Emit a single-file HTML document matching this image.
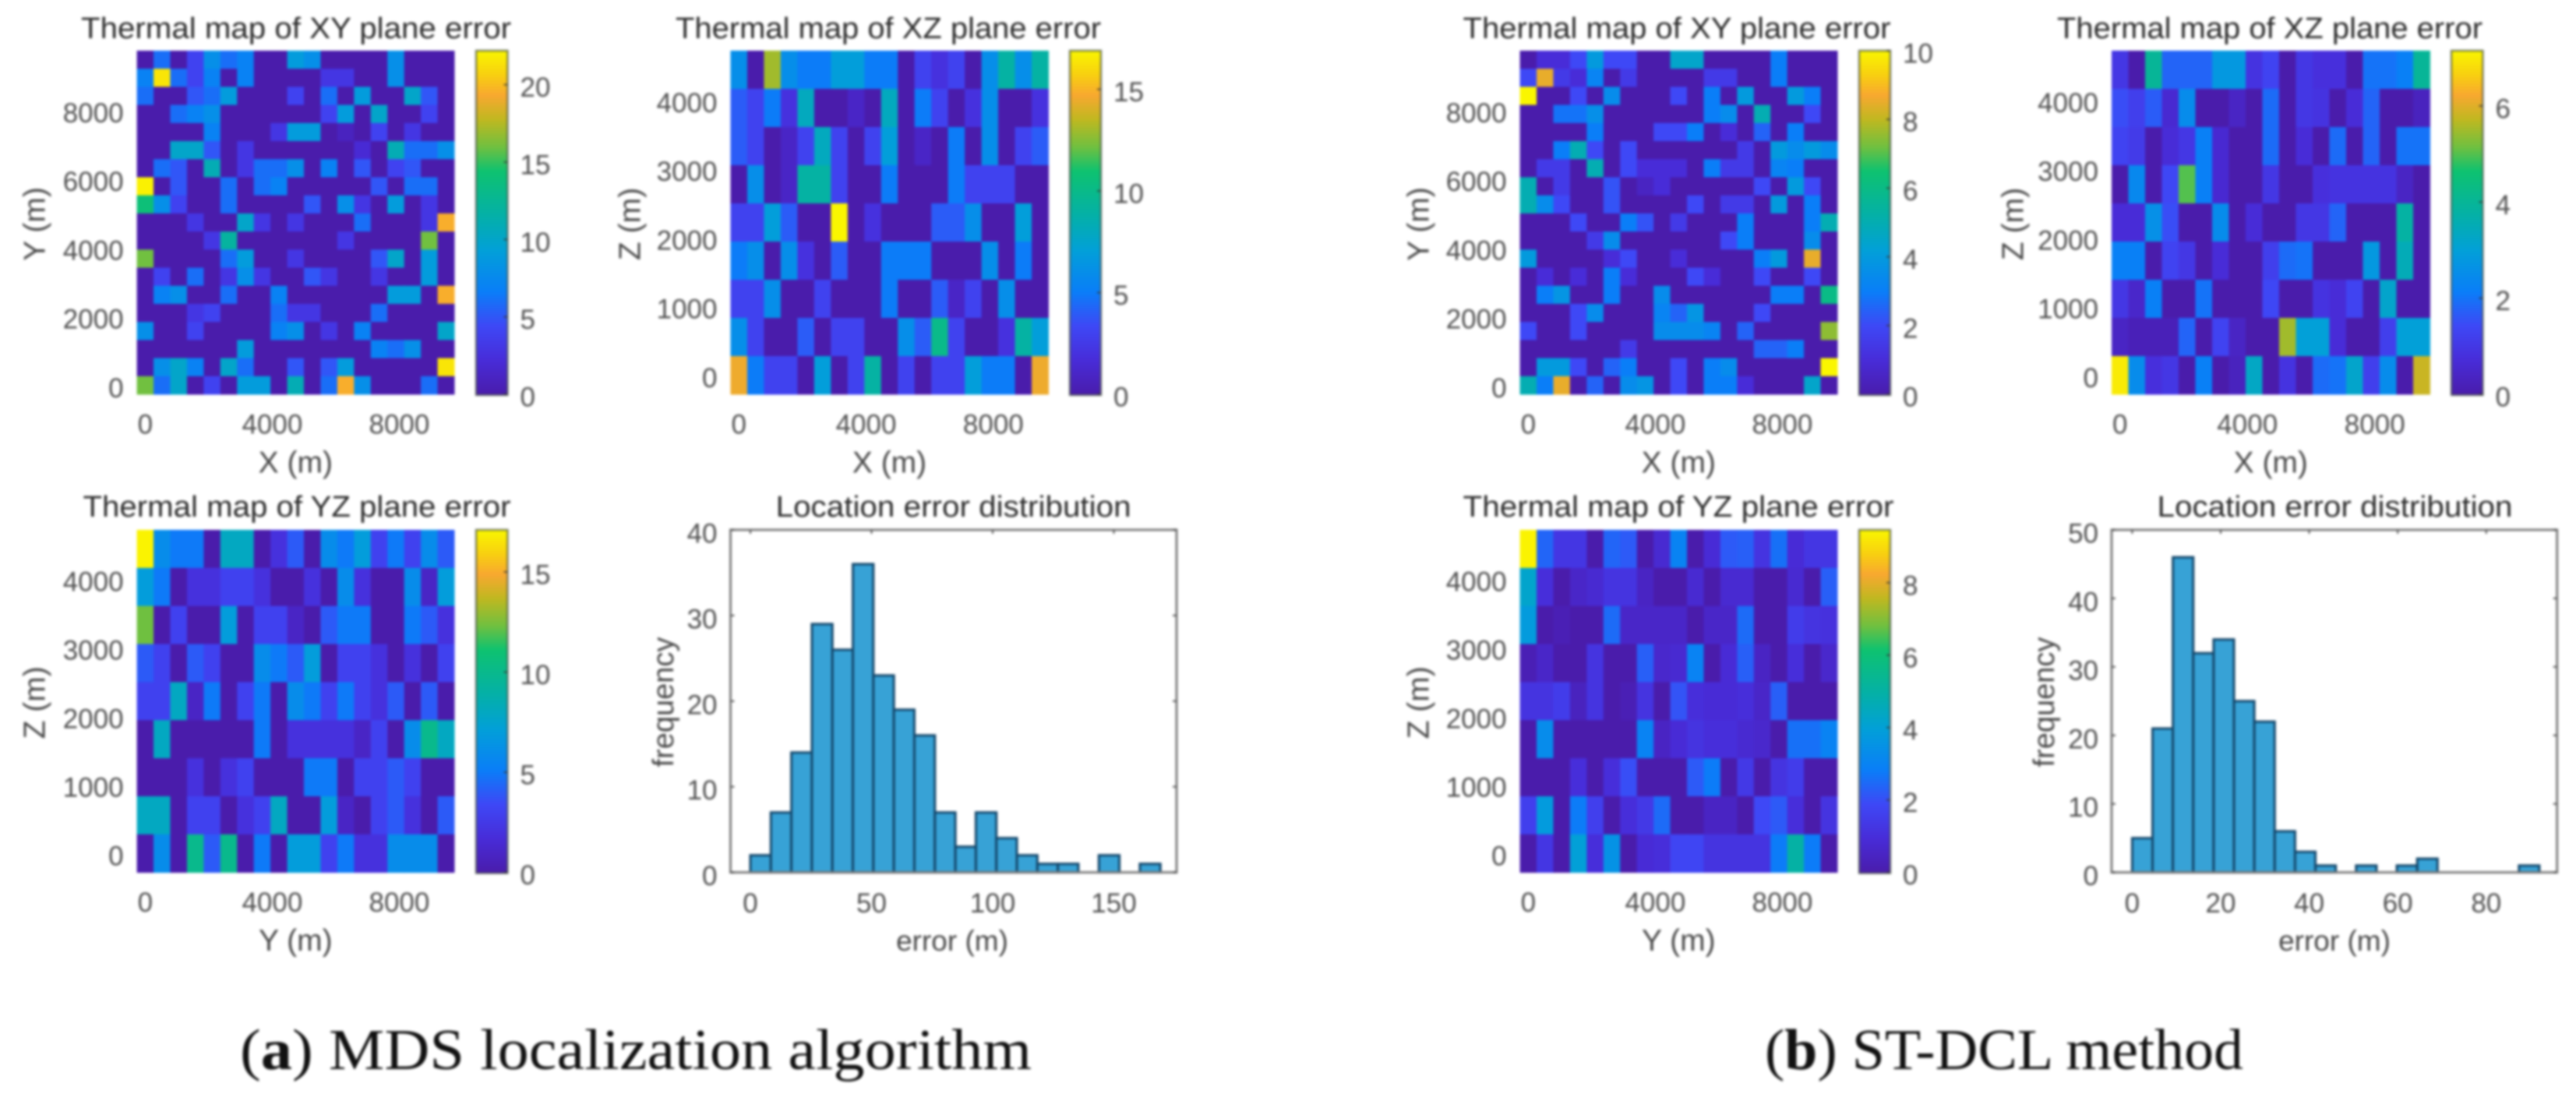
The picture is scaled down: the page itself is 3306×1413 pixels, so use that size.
<!DOCTYPE html>
<html lang="en">
<head>
<meta charset="utf-8">
<title>Thermal maps of location error</title>
<style>
  html, body { margin: 0; padding: 0; background: #ffffff; }
  #figure { display: block; width: 3306px; height: 1413px; background: #ffffff; filter: blur(1.6px); }
  text { font-family: "Liberation Sans", sans-serif; }
  .serif { font-family: "Liberation Serif", serif; fill: #111111; }
</style>
</head>
<body>
<svg id="figure" xmlns="http://www.w3.org/2000/svg" width="3306" height="1413" viewBox="0 0 3306 1413">
  <defs id="defs"></defs>
  <g id="plots"></g>
  <text class="serif" x="308" y="1372" font-size="74" textLength="1016" lengthAdjust="spacingAndGlyphs">(<tspan font-weight="bold">a</tspan>) MDS localization algorithm</text>
  <text class="serif" x="2265" y="1372" font-size="74" textLength="614" lengthAdjust="spacingAndGlyphs">(<tspan font-weight="bold">b</tspan>) ST-DCL method</text>
</svg>
<script>
// ---------- chart data (cell values in colorbar units; rows run top to bottom) ----------
const xyErrorA = [
  [0,6,0,4,8,6,7,0,0,9,8,0,0,0,0,8,0,0,0],
  [7,21.5,6,4,7,0,7,0,0,0,0,3,3,0,0,8,0,0,0],
  [6,0,0,5,6,9,0,0,0,4,0,6,0,9,0,0,10,5,0],
  [0,0,6,7,8,0,0,0,0,0,0,4,9,0,10,0,0,4,0],
  [0,0,0,0,7,0,0,0,3,9,9,0,1,0,4,0,3,0,0],
  [0,0,10,10,5,0,3,0,0,0,0,0,0,2,0,11,6,6,8],
  [0,6,5,0,11,0,3,6,6,8,0,7,0,5,0,4,5,0,0],
  [22,0,5,0,0,6,0,6,7,0,0,0,0,0,5,0,6,6,0],
  [14,8,4,0,0,6,0,0,0,0,5,0,8,3,0,9,0,3,0],
  [0,0,0,3,0,0,10,3,0,3,0,0,0,6,0,0,0,3,19.5],
  [0,0,0,0,3,12,0,0,0,0,0,0,3,0,0,0,0,16,0],
  [16,0,0,0,0,6,9,0,0,3,0,0,0,0,5,10,0,9,0],
  [0,4,0,6,0,3,8,3,0,0,5,3,0,0,3,0,0,9,0],
  [0,7,8,0,0,6,0,0,7,0,0,0,0,0,0,9,9,0,19.5],
  [0,0,0,3,4,0,0,0,6,3,3,0,0,0,6,0,0,0,0],
  [8,0,0,4,0,0,0,0,7,8,0,3,0,7,0,0,0,0,10],
  [0,0,0,0,0,0,9,0,0,0,0,0,0,0,7,6,8,0,0],
  [0,8,10,7,0,10,6,0,0,5,0,5,9,0,0,0,0,0,21.5],
  [16,6,10,0,4,0,9,9,0,11,0,6,19.5,8,0,0,0,6,0]
];
const xzErrorA = [
  [6,0,13,6,5,5,7,7,5,5,0,3,2,3,0,6,9,6,9],
  [4,3,5,2,8,0,0,1,0,8,0,5,3,0,2,6,0,0,2],
  [4,3,0,1,3,8,3,0,3,7,0,1,0,5,0,6,0,3,4],
  [0,6,0,1,9,9,3,0,0,5,0,0,0,5,3,3,3,0,0],
  [3,3,7,4,0,0,17,0,2,0,0,0,4,4,6,0,0,7,0],
  [5,6,0,6,2,0,4,0,0,5,5,5,0,0,0,6,0,5,0],
  [3,3,6,0,0,3,0,0,0,5,0,0,4,1,3,0,6,0,0],
  [6,3,0,0,4,0,3,3,0,0,6,4,10,3,0,0,2,9,7],
  [14.5,5,3,3,0,7,0,3,9,0,3,0,3,3,7,5,5,0,14.5]
];
const yzErrorA = [
  [17,6,5,5,0,8,8,0,2,4,0,6,5,7,3,5,3,6,4],
  [7,5,0,2,2,3,3,2,0,0,2,0,6,2,0,0,6,1,7],
  [12.3,0,3,0,0,7,0,3,3,1,0,4,5,5,0,0,5,4,2],
  [4,3,0,4,3,0,0,6,5,4,7,0,3,3,2,0,2,0,3],
  [3,3,8,1,5,0,3,5,0,6,5,3,5,3,2,4,0,4,0],
  [0,8,0,0,0,0,0,5,0,2,2,2,2,1,3,0,6,10,8],
  [0,0,0,2,0,2,3,0,0,0,5,5,0,3,3,4,3,0,0],
  [8,8,0,3,3,0,2,3,8,0,0,7,1,0,3,4,2,0,4],
  [0,6,0,10,4,10,0,5,0,7,7,3,5,2,2,6,6,6,0]
];
const xyErrorB = [
  [0,1,1,2,4,2,2,0,0,4.5,4.5,0,0,0,0,3,0,0,0],
  [2,8.5,1.5,1,3.2,0,1.5,0,0,0,0,1.5,1.5,0,0,3,0,0,0],
  [10,0,0,2,0,3.5,0,0,0,2,0,3,0,4,0,0,4,3,0],
  [0,0,2.8,2.8,3.6,0,0,0,0,0,0,3,3.5,0,5,0,0,2,0],
  [0,0,0,0,3,0,0,0,2,2,3,0,1,0,2.5,0,3,0,0],
  [0,0,3,5,2,0,2,0,0,0,0,0,0,1.5,0,4,3.5,4,3.5],
  [0,1.5,1.5,0,5,0,2,1,1,1,0,3,1.5,1.5,0,3.2,3,0,0],
  [5,0,1.5,0,0,2.2,0,0.5,1,0,0,0,0,0,2,0,4,2,0],
  [5,3.5,2,0,0,2.2,0,0,0,0,2,0,1.5,1.5,0,4,0,3,0],
  [0,0,0,2,0,0,3,2.2,0,1.5,0,0,0,3,0,0,0,3,5],
  [0,0,0,0,1.5,3.5,0,0,0,0,0,0,2,3,0,0,0,3.5,0],
  [4,0,0,0,0,1,2,0,0,1,0,0,0,0,3,4,0,8.5,0],
  [0,1,0,1,0,3,1,0,0,0,2,1,0,0,2,0,0,2,0],
  [0,3,3.8,0,0,3,0,0,3.5,0,0,0,0,0,0,3,3,0,6],
  [0,0,0,2,3.5,0,0,0,3.2,2.5,3.8,0,0,0,2,0,0,0,0],
  [2,0,0,2,0,0,0,0,3.5,3.5,3.5,3.2,0,2.5,0,0,0,0,7.5],
  [0,0,0,0,0,0,1.5,0,0,0,0,0,0,0,2.5,2.5,3,0,0],
  [0,4,4,2,0,2.5,3,0,0,2,0,3,3.5,0,0,0,0,0,10],
  [5,3,8.5,0,2.5,0,3.5,3.8,0,2,0,3,3,1,0,0,0,4.5,0]
];
const xzErrorB = [
  [1,0,4,1.8,1.8,1.8,2.8,2.8,0.9,1.3,0,1,0.8,0.8,0,2,2,2.2,4],
  [1.5,1.2,1.7,0.6,2.5,0,0,0.4,0,1.9,0,1,0.9,0,0.7,1.8,0,0,0.3],
  [1.3,1.1,0,0.7,1,2.2,0.6,0,0,1.9,0,0.7,0,1.9,0,1.8,0,2,2],
  [0,2.4,0,1.4,5,2.2,0.6,0,0,1,0,0,0.8,0.9,0.9,0.9,0.9,0.4,0],
  [0.7,0.7,2.6,1.5,0,0,2.5,0,0.7,0,0,1,1,1.8,0,0,0,3.8,0],
  [2.2,2.2,0,1.3,1,0,0.7,0,0,1.2,1.9,2,0,0,0,2.8,0,3.5,0],
  [1,0.5,2.2,0,0,2,0,0,0,1.4,0,0,0.9,0.7,1.3,0,3.2,0,0],
  [0.4,0.2,0.2,0.2,1.8,0,1.3,0.4,0,0,5.5,3,3,0.7,0,0,1.2,3,3],
  [7,2.5,0.8,1,0,2.2,0,0.3,3.3,0,0.9,0,1.9,2,3.2,1.2,2.5,0,5.8]
];
const yzErrorB = [
  [9.4,2.4,1.3,1.3,0,2.4,2.2,0,0.8,3,0,0.9,2.2,2.3,1.2,2.6,0.9,1.3,1.3],
  [4.2,1,0,0.6,0.8,1.2,1.2,0.5,0,0,0.8,0,0.8,0.8,0,0,0.8,0,2.3],
  [3.8,0,0.2,0,0,2.5,0.6,0.6,0.6,0.6,0,0.6,0.6,2.5,0,0,1.5,1.2,1.1],
  [0.2,0.6,0,0,1.2,0,0,2.3,0.7,0.8,3,0,0.9,2.3,0.5,0,1,0,0.7],
  [1.2,1.2,1.5,0.4,1.2,0,0.2,1.2,0,2.1,1,0.9,0.9,1,0.6,2.3,0,0,0],
  [0,3.3,0,0,0,0,0,3,0.5,0.9,1.2,1,1,0.8,0.7,0,2.6,2.6,3],
  [0,0,0,1,0,1,2,0,0,0,2.2,2.8,0,1.4,0,1.2,1.5,0,0],
  [1.6,3.8,0,2.8,1.6,0,1,1.4,2.5,0,0,0.5,0.5,0,1.9,2.2,1,0,1.2],
  [0,1.3,0,4,1,3.5,0,0.9,1,1.8,1.8,1.2,1.2,1.2,1.2,2.8,5,2.8,0]
];
const histCountsA = [2,7,14,29,26,36,23,19,16,7,3,7,4,2,1,1,0,2,0,1];
const histCountsB = [5,21,46,32,34,25,22,6,3,1,0,1,0,1,2,0,0,0,0,1];
const histBinWidthA = 8.46;
const histBinWidthB = 4.6;
const ticksXY = [0,2000,4000,6000,8000];
const ticksZ = [0,1000,2000,3000,4000];
const ticksXAxis = [0,4000,8000];
const cbarTicksA1 = [0,5,10,15,20];
const cbarTicksA2 = [0,5,10,15];
const cbarTicksA3 = [0,5,10,15];
const cbarTicksB1 = [0,2,4,6,8,10];
const cbarTicksB2 = [0,2,4,6];
const cbarTicksB3 = [0,2,4,6,8];
const histXTicksA = [0,50,100,150];
const histYTicksA = [0,10,20,30,40];
const histXTicksB = [0,20,40,60,80];
const histYTicksB = [0,10,20,30,40,50];
const colorScaleMaxA1 = 22.2;
const colorScaleMaxA2 = 16.9;
const colorScaleMaxA3 = 17.1;
const colorScaleMaxB1 = 10;
const colorScaleMaxB2 = 7.15;
const colorScaleMaxB3 = 9.46;

// ---------- colour scale ----------
const colorStops = [
  [0,    [74,28,171]],
  [0.10, [72,44,216]],
  [0.20, [62,72,246]],
  [0.30, [10,126,248]],
  [0.42, [2,160,216]],
  [0.52, [4,176,168]],
  [0.65, [14,194,112]],
  [0.72, [112,192,64]],
  [0.80, [192,184,32]],
  [0.87, [248,168,48]],
  [0.93, [248,208,16]],
  [1,    [250,246,0]]
];
function colorAt(t) {
  t = Math.max(0, Math.min(1, t));
  for (let i = 1; i < colorStops.length; i++) {
    if (t <= colorStops[i][0]) {
      const a = colorStops[i - 1], b = colorStops[i];
      const f = (t - a[0]) / (b[0] - a[0]);
      return 'rgb(' + [0, 1, 2].map(k => Math.round(a[1][k] + (b[1][k] - a[1][k]) * f)).join(',') + ')';
    }
  }
  return 'rgb(250,246,0)';
}

// ---------- drawing helpers ----------
const NS = 'http://www.w3.org/2000/svg';
const plots = document.getElementById('plots');
function mk(tag, attrs, parent) {
  const el = document.createElementNS(NS, tag);
  for (const k in attrs) el.setAttribute(k, attrs[k]);
  (parent || plots).appendChild(el);
  return el;
}
function label(txt, x, y, size, fill, anchor, parent, rotate, fit) {
  const attrs = { x: x, y: y, 'font-size': size, fill: fill, 'text-anchor': anchor, 'dominant-baseline': 'central' };
  if (rotate) attrs.transform = 'rotate(-90 ' + x + ' ' + y + ')';
  if (fit) { attrs.textLength = fit; attrs.lengthAdjust = 'spacingAndGlyphs'; }
  const el = mk('text', attrs, parent);
  el.textContent = txt;
  return el;
}
const TICK_COLOR = '#505050';
const TITLE_COLOR = '#2c2c2c';
const LABEL_COLOR = '#484848';

// Gradient shared by all colorbars
const defs = document.getElementById('defs');
const grad = mk('linearGradient', { id: 'cbarGrad', x1: 0, y1: 1, x2: 0, y2: 0 }, defs);
colorStops.forEach(s => mk('stop', { offset: s[0], 'stop-color': colorAt(s[0]) }, grad));

function drawHeatmap(o) {
  const g = mk('g', {});
  
  
  const rows = o.values.length, cols = o.values[0].length;
  const cw = (o.right - o.left) / cols, ch = (o.bottom - o.top) / rows;
  // axis functions: data metres -> pixels; cell centres sit on their data coordinate
  const xScale = v => o.left + cw / 2 + v / o.xCell * cw;
  const yScale = v => o.bottom - ch / 2 - v / o.yCell * ch;
  const colorScale = v => colorAt(v / o.vmax);
  o.values.forEach((row, r) => row.forEach((v, c) => {
    const cell = mk('rect', {
      x: o.left + c * cw, y: o.top + r * ch,
      width: cw + 0.5, height: ch + 0.5, fill: colorScale(v)
    }, g);
    
    
  }));
  o.yTicks.forEach(t => {
    const el = label(t, o.left - 17, yScale(t) + 4, 35, TICK_COLOR, 'end', g);
    
    
  });
  o.xTicks.forEach(t => {
    const el = label(t, xScale(t), o.bottom + 39, 35, TICK_COLOR, 'middle', g);
    
    
  });
  const title = label(o.title, o.titleX, o.bottom === 506 ? 37 : 651, 38, TITLE_COLOR, 'middle', g, false, o.titleW);
  
  
  const xl = label(o.xLabel, (o.left + o.right) / 2, o.bottom + 88, 39, LABEL_COLOR, 'middle', g);
  
  
  const yl = label(o.yLabel, o.yLabelX, (o.top + o.bottom) / 2 + 2, 39, LABEL_COLOR, 'middle', g, true);
  
  

  // colorbar
  const cb = mk('rect', {
    x: o.cbarX, y: o.top, width: o.cbarW, height: o.bottom - o.top + 1,
    fill: 'url(#cbarGrad)', stroke: 'rgba(60,70,60,0.65)', 'stroke-width': 2.5
  }, g);
  
  
  const cbScale = v => o.bottom - v / o.vmax * (o.bottom - o.top);
  o.cbarTicks.forEach(t => {
    const mark = mk('line', { x1: o.cbarX + o.cbarW - 5, x2: o.cbarX + o.cbarW, y1: cbScale(t), y2: cbScale(t), stroke: '#333', 'stroke-width': 1.5 }, g);
    
    
    const el = label(t, o.cbarX + o.cbarW + 16, cbScale(t) + 4, 35, TICK_COLOR, 'start', g);
    
    
  });
}

function drawHistogram(o) {
  const g = mk('g', {});
  
  
  const xScale = v => o.x0 + v * o.xk;
  const yScale = v => o.bottom - v / o.yMax * (o.bottom - o.top);
  o.counts.forEach((n, i) => {
    if (!n) return;
    const bar = mk('rect', {
      x: xScale(i * o.binWidth), y: yScale(n),
      width: xScale((i + 1) * o.binWidth) - xScale(i * o.binWidth), height: yScale(0) - yScale(n),
      fill: '#37a2d6', stroke: '#14476b', 'stroke-width': 3
    }, g);
    
    
  });
  const frame = mk('rect', { x: o.left, y: o.top, width: o.right - o.left, height: o.bottom - o.top, fill: 'none', stroke: '#7d7d7d', 'stroke-width': 3 }, g);
  
  
  o.xTicks.forEach(t => {
    const mark = mk('line', { x1: xScale(t), x2: xScale(t), y1: o.top, y2: o.top + 5, stroke: '#555', 'stroke-width': 2 }, g);
    
    
    const el = label(t, xScale(t), o.bottom + 40, 35, TICK_COLOR, 'middle', g);
    
    
  });
  o.yTicks.forEach(t => {
    const markL = mk('line', { x1: o.left, x2: o.left + 5, y1: yScale(t), y2: yScale(t), stroke: '#555', 'stroke-width': 2 }, g);
    
    
    const markR = mk('line', { x1: o.right - 5, x2: o.right, y1: yScale(t), y2: yScale(t), stroke: '#555', 'stroke-width': 2 }, g);
    
    
    const el = label(t, o.left - 17, yScale(t) + 5, 35, TICK_COLOR, 'end', g);
    
    
  });
  const title = label('Location error distribution', o.titleX, 651, 38, TITLE_COLOR, 'middle', g, false, 456);
  
  
  const xl = label('error (m)', o.xLabelX, o.bottom + 88, 37, LABEL_COLOR, 'middle', g);
  
  
  const yl = label('frequency', o.yLabelX, 901, 38, LABEL_COLOR, 'middle', g, true);
  
  
}

const ROW1 = { top: 65, bottom: 506 };
const ROW2 = { top: 680, bottom: 1119.6 };
const XY_CELL = 526, Z_CELL = 555;

drawHeatmap({ name: 'xy-heatmap-mds', values: xyErrorA, vmax: colorScaleMaxA1, left: 175.6, right: 583, top: ROW1.top, bottom: ROW1.bottom, xCell: XY_CELL, yCell: XY_CELL, xTicks: ticksXAxis, yTicks: ticksXY, title: 'Thermal map of XY plane error', titleX: 380, titleW: 552, xLabel: 'X (m)', yLabel: 'Y (m)', yLabelX: 45, cbarX: 611, cbarW: 40.5, cbarTicks: cbarTicksA1 });
drawHeatmap({ name: 'xz-heatmap-mds', values: xzErrorA, vmax: colorScaleMaxA2, left: 937.5, right: 1345.5, top: ROW1.top, bottom: ROW1.bottom, xCell: XY_CELL, yCell: Z_CELL, xTicks: ticksXAxis, yTicks: ticksZ, title: 'Thermal map of XZ plane error', titleX: 1140, titleW: 546, xLabel: 'X (m)', yLabel: 'Z (m)', yLabelX: 809, cbarX: 1373, cbarW: 40, cbarTicks: cbarTicksA2 });
drawHeatmap({ name: 'yz-heatmap-mds', values: yzErrorA, vmax: colorScaleMaxA3, left: 175.6, right: 583, top: ROW2.top, bottom: ROW2.bottom, xCell: XY_CELL, yCell: Z_CELL, xTicks: ticksXAxis, yTicks: ticksZ, title: 'Thermal map of YZ plane error', titleX: 381, titleW: 549, xLabel: 'Y (m)', yLabel: 'Z (m)', yLabelX: 45, cbarX: 611, cbarW: 40.5, cbarTicks: cbarTicksA3 });
drawHistogram({ name: 'location-error-histogram-mds', counts: histCountsA, binWidth: histBinWidthA, left: 937.5, right: 1510, top: ROW2.top, bottom: ROW2.bottom, x0: 963, xk: 3.11, yMax: 40, xTicks: histXTicksA, yTicks: histYTicksA, titleX: 1223.6, xLabelX: 1222, yLabelX: 852 });

drawHeatmap({ name: 'xy-heatmap-stdcl', values: xyErrorB, vmax: colorScaleMaxB1, left: 1950.6, right: 2358, top: ROW1.top, bottom: ROW1.bottom, xCell: XY_CELL, yCell: XY_CELL, xTicks: ticksXAxis, yTicks: ticksXY, title: 'Thermal map of XY plane error', titleX: 2152, titleW: 549, xLabel: 'X (m)', yLabel: 'Y (m)', yLabelX: 1821, cbarX: 2386, cbarW: 40, cbarTicks: cbarTicksB1 });
drawHeatmap({ name: 'xz-heatmap-stdcl', values: xzErrorB, vmax: colorScaleMaxB2, left: 2710, right: 3118.5, top: ROW1.top, bottom: ROW1.bottom, xCell: XY_CELL, yCell: Z_CELL, xTicks: ticksXAxis, yTicks: ticksZ, title: 'Thermal map of XZ plane error', titleX: 2913, titleW: 546, xLabel: 'X (m)', yLabel: 'Z (m)', yLabelX: 2584, cbarX: 3146, cbarW: 40.5, cbarTicks: cbarTicksB2 });
drawHeatmap({ name: 'yz-heatmap-stdcl', values: yzErrorB, vmax: colorScaleMaxB3, left: 1950.6, right: 2358, top: ROW2.top, bottom: ROW2.bottom, xCell: XY_CELL, yCell: Z_CELL, xTicks: ticksXAxis, yTicks: ticksZ, title: 'Thermal map of YZ plane error', titleX: 2154, titleW: 553, xLabel: 'Y (m)', yLabel: 'Z (m)', yLabelX: 1821, cbarX: 2386, cbarW: 40, cbarTicks: cbarTicksB3 });
drawHistogram({ name: 'location-error-histogram-stdcl', counts: histCountsB, binWidth: histBinWidthB, left: 2710, right: 3281.7, top: ROW2.top, bottom: ROW2.bottom, x0: 2736.4, xk: 5.68, yMax: 50, xTicks: histXTicksB, yTicks: histYTicksB, titleX: 2996.5, xLabelX: 2996, yLabelX: 2624 });
</script>
</body>
</html>
